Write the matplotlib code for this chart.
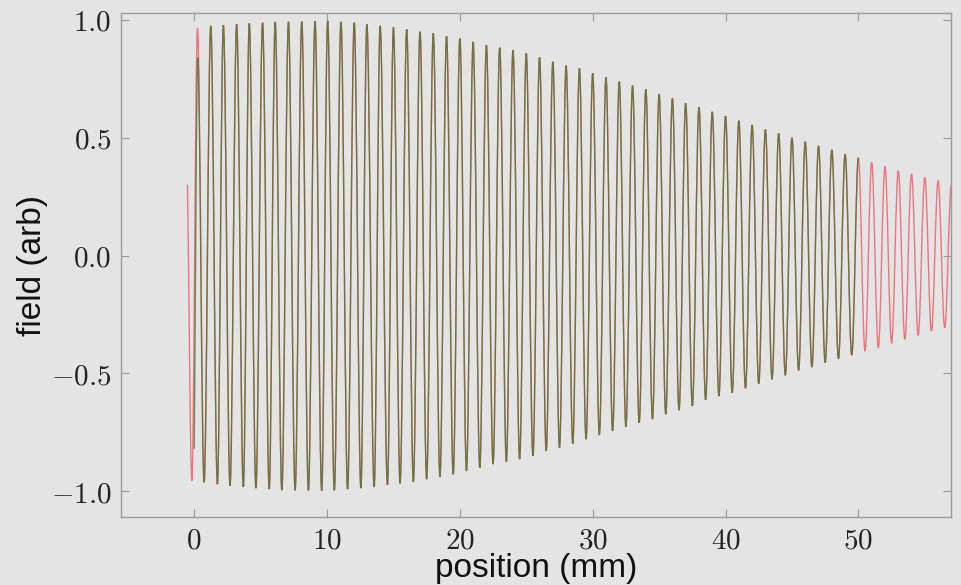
import numpy as np
import matplotlib.pyplot as plt
from matplotlib.path import Path
from matplotlib.patches import PathPatch
from matplotlib.ticker import FuncFormatter, MultipleLocator

plt.rcParams['mathtext.fontset'] = 'cm'

# field maxima along the device (position in mm, field in arb. units)
peak_pos = [0.25, 1.25, 2.2, 3.2, 4.15, 5.15, 6.1, 7.1, 8.1, 9.1, 10.05, 11.05, 12.05, 13.0,
            14.0, 15.0, 16.0, 17.0, 18.0, 19.0, 20.0, 21.0, 22.0, 23.0, 24.0, 25.0, 26.0,
            27.0, 28.0, 29.0, 30.0, 31.0, 32.0, 33.0, 34.0, 35.0, 36.0, 37.0, 38.0, 39.0,
            40.0, 41.0, 42.0, 43.0, 44.0, 45.0, 46.0, 47.0, 48.0, 49.0, 50.0, 51.0, 52.0,
            53.0, 54.0, 55.0, 56.0]
peak_val = [0.965, 0.975, 0.978, 0.982, 0.985, 0.988, 0.991, 0.992, 0.993, 0.995, 0.996,
            0.992, 0.988, 0.981, 0.975, 0.968, 0.96, 0.95, 0.943, 0.931, 0.921, 0.907,
            0.893, 0.882, 0.872, 0.858, 0.841, 0.822, 0.806, 0.794, 0.773, 0.756, 0.738,
            0.721, 0.705, 0.685, 0.667, 0.646, 0.629, 0.61, 0.592, 0.572, 0.554, 0.535,
            0.518, 0.5, 0.483, 0.465, 0.448, 0.43, 0.415, 0.395, 0.378, 0.36, 0.346,
            0.331, 0.318]

# field minima
trough_pos = [-0.17, 0.75, 1.75, 2.7, 3.7, 4.65, 5.65, 6.6, 7.6, 8.6, 9.6, 10.55, 11.55,
              12.55, 13.55, 14.55, 15.5, 16.5, 17.5, 18.5, 19.5, 20.5, 21.5, 22.5, 23.5,
              24.5, 25.5, 26.5, 27.5, 28.5, 29.5, 30.5, 31.5, 32.5, 33.5, 34.5, 35.5,
              36.5, 37.5, 38.5, 39.5, 40.5, 41.5, 42.5, 43.5, 44.5, 45.5, 46.5, 47.5,
              48.5, 49.5, 50.5, 51.5, 52.5, 53.5, 54.5, 55.5, 56.5]
trough_val = [-0.955, -0.962, -0.97, -0.977, -0.982, -0.987, -0.991, -0.995, -0.996,
              -0.996, -0.998, -0.996, -0.991, -0.987, -0.982, -0.973, -0.967, -0.96,
              -0.949, -0.939, -0.928, -0.914, -0.9, -0.885, -0.874, -0.864, -0.85,
              -0.829, -0.815, -0.798, -0.779, -0.761, -0.744, -0.727, -0.709, -0.694,
              -0.673, -0.656, -0.638, -0.612, -0.596, -0.582, -0.563, -0.543, -0.525,
              -0.508, -0.487, -0.473, -0.454, -0.438, -0.422, -0.405, -0.391, -0.372,
              -0.355, -0.338, -0.32, -0.306]

# end points of the two traces
red_start = (-0.5, 0.30)
red_end = (57.0, 0.30)
green_start = (0.0, -0.82)
green_first_peak = (0.27, 0.84)
green_end_idx = 50  # green trace stops at the 50 mm peak


def smooth_path(xs, ys, k=0.3642):
    # cubic bezier between neighbouring extrema, flat tangents at each extremum
    verts = [(xs[0], ys[0])]
    codes = [Path.MOVETO]
    for i in range(len(xs) - 1):
        x0, y0, x1, y1 = xs[i], ys[i], xs[i + 1], ys[i + 1]
        dx = x1 - x0
        if i == 0:
            c1 = (x0 + k * dx, y0 + k * (y1 - y0))
        else:
            c1 = (x0 + k * dx, y0)
        verts += [c1, (x1 - k * dx, y1), (x1, y1)]
        codes += [Path.CURVE4] * 3
    return Path(verts, codes)


# red: full trace, alternating trough / peak
red_x = [red_start[0]]
red_y = [red_start[1]]
for i in range(len(peak_pos)):
    red_x += [trough_pos[i], peak_pos[i]]
    red_y += [trough_val[i], peak_val[i]]
red_x += [trough_pos[-1], red_end[0]]
red_y += [trough_val[-1], red_end[1]]

# green: 0 to 50 mm
green_x = [green_start[0], green_first_peak[0]]
green_y = [green_start[1], green_first_peak[1]]
for i in range(1, green_end_idx + 1):
    green_x += [trough_pos[i], peak_pos[i]]
    green_y += [trough_val[i], peak_val[i]]

bg = '#e4e4e4'
fig = plt.figure(figsize=(9.61, 5.85), dpi=100, facecolor=bg)
ax = fig.add_axes([0.126, 0.116, 0.864, 0.862], facecolor=bg)

ax.add_patch(PathPatch(smooth_path(red_x, red_y), fill=False, edgecolor='#ea7480',
                       lw=1.0, zorder=2))
ax.add_patch(PathPatch(smooth_path(green_x, green_y), fill=False, edgecolor='#4f7236',
                       lw=1.0, alpha=0.8, zorder=3))

ax.set_xlim(-5.5, 57)
ax.set_ylim(-1.11, 1.03)
ax.xaxis.set_major_locator(MultipleLocator(10))
ax.yaxis.set_major_locator(MultipleLocator(0.5))
ax.xaxis.set_major_formatter(FuncFormatter(lambda v, p: r'$%d$' % round(v)))
ax.yaxis.set_major_formatter(FuncFormatter(lambda v, p: r'$%.1f$' % v))

for s in ax.spines.values():
    s.set_color('#9a9a9a')
    s.set_linewidth(1.0)
ax.tick_params(direction='in', top=True, right=True, length=6, width=0.8,
               color='#9a9a9a', labelsize=21, labelcolor='#222222')
ax.tick_params(axis='x', pad=7)
ax.tick_params(axis='y', pad=7)

ax.set_xlabel('position (mm)', family='Liberation Sans', fontsize=24, color='#111111',
              labelpad=-1)
ax.set_ylabel('field (arb)', family='Liberation Sans', fontsize=24, color='#111111',
              labelpad=2)

fig.savefig('out.png', dpi=100, facecolor=bg)
